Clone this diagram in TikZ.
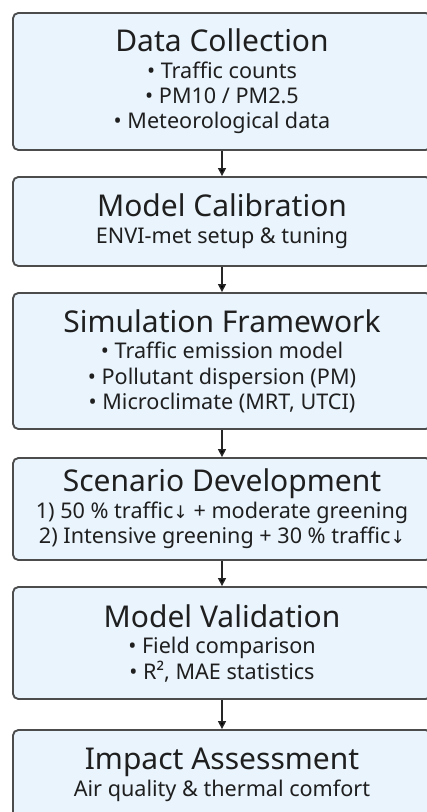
\documentclass[tikz,border=0pt]{standalone}
\usepackage{fontspec}
\setmainfont{Noto Sans}
\newfontfamily\arrowfont{DejaVu Sans}
\usetikzlibrary{arrows.meta}
\definecolor{boxfill}{HTML}{E9F4FD}
\definecolor{boxline}{HTML}{4C4C4C}
\newcommand{\titlefont}{\fontsize{22.5}{26}\selectfont}
\newcommand{\bodyfont}{\fontsize{16.2}{19}\selectfont}
\newcommand{\down}{{\arrowfont\fontsize{13}{13}\selectfont ↓}}

\begin{document}
\begin{tikzpicture}
        [x=0.75pt, y=-0.75pt,
         box_style/.style={rectangle,rounded corners=4pt,draw=boxline,line width=1.4pt,fill=boxfill,
                           minimum width=313.5pt,align=center,font=\bodyfont,text=black!88},
         edge_style/.style={draw=black!85,line width=1.1pt,-{Triangle[length=6pt,width=6pt]}}]
            \clip (0,0) rectangle (427,812);
            \fill[white] (0,0) rectangle (427,812);
            \node[box_style,minimum height=102.75pt] (s1) at (222,81.5)
                {{\titlefont Data Collection}\\[1pt] • Traffic counts\\ • PM10 / PM2.5\\ • Meteorological data};
            \node[box_style,minimum height=66.75pt] (s2) at (222,221.5)
                {{\titlefont Model Calibration}\\[1pt] ENVI-met setup \& tuning};
            \node[box_style,minimum height=102pt] (s3) at (222,361)
                {{\titlefont Simulation Framework}\\[1pt] • Traffic emission model\\ • Pollutant dispersion (PM)\\ • Microclimate (MRT, UTCI)};
            \node[box_style,minimum height=76.5pt] (s4) at (222,509)
                {{\titlefont Scenario Development}\\[1pt] 1) 50 \% traffic\down{} + moderate greening\\ 2) Intensive greening + 30 \% traffic\down};
            \node[box_style,minimum height=84pt] (s5) at (222,643)
                {{\titlefont Model Validation}\\[1pt] • Field comparison\\ • R², MAE statistics};
            \node[box_style,minimum height=67.5pt] (s6) at (222,775)
                {{\titlefont Impact Assessment}\\[1pt] Air quality \& thermal comfort};
            \draw[edge_style]  (s1) edge (s2);
            \draw[edge_style]  (s2) edge (s3);
            \draw[edge_style]  (s3) edge (s4);
            \draw[edge_style]  (s4) edge (s5);
            \draw[edge_style]  (s5) edge (s6);
        \end{tikzpicture}
\end{document}
